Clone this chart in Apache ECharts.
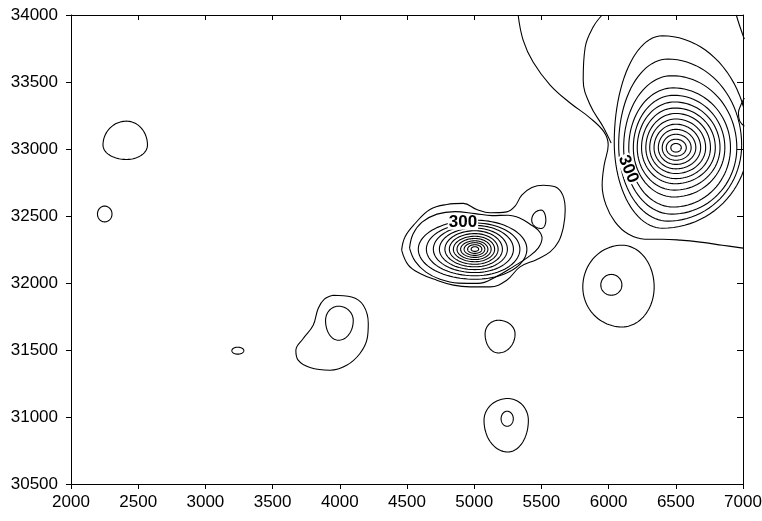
<!DOCTYPE html>
<html>
<head>
<meta charset="utf-8">
<script src="https://cdn.jsdelivr.net/npm/echarts@6/dist/echarts.min.js"></script>
<style>
  html, body { margin: 0; padding: 0; background: #fff; }
  #chart { width: 762px; height: 521px; }
</style>
</head>
<body>
<div id="chart"></div>
<script>
// axis ranges: [min, max, step]
const xRange = [2000, 7000, 500];
const yRange = [30500, 34000, 500];

// closed contour rings: [cx, cy, xLeft, xRight, yTop, yBottom]
const ringsCentral = [
  [5005, 32252, 4977, 5033, 32271, 32236],
  [5005, 32252, 4951, 5057, 32286, 32221],
  [5005, 32252, 4925, 5079, 32301, 32206],
  [5005, 32252, 4899, 5102, 32315, 32191],
  [5005, 32252, 4872, 5126, 32332, 32175],
  [5005, 32252, 4845, 5152, 32349, 32159],
  [5005, 32252, 4815, 5178, 32369, 32140],
  [5005, 32252, 4782, 5210, 32390, 32121],
  [5005, 32252, 4741, 5247, 32410, 32100],
  [5005, 32252, 4696, 5292, 32430, 32078],
  [5005, 32252, 4644, 5340, 32448, 32054],
  [5005, 32252, 4584, 5392, 32469, 32028]
];
const ringsNE = [
  [6500, 33010, 6463, 6541, 33041, 32977],
  [6500, 33010, 6429, 6578, 33073, 32947],
  [6500, 33010, 6399, 6614, 33110, 32916],
  [6500, 33010, 6370, 6649, 33147, 32885],
  [6500, 33010, 6338, 6685, 33185, 32852],
  [6500, 33010, 6306, 6722, 33224, 32817],
  [6500, 33010, 6277, 6758, 33265, 32779],
  [6495, 33010, 6245, 6794, 33306, 32741],
  [6490, 33010, 6213, 6829, 33351, 32693],
  [6485, 33010, 6184, 6865, 33401, 32642],
  [6480, 33010, 6150, 6907, 33456, 32567],
  [6470, 33010, 6112, 6954, 33547, 32514],
  [6440, 33030, 6075, 6990, 33671, 32462],
  [6400, 33050, 6042, 7040, 33845, 32409]
];
const ringsSmall = [
  [2413, 33029, 2238, 2569, 33208, 32922],
  [2250, 32515, 2197, 2305, 32574, 32456],
  [3240, 31495, 3197, 3286, 31521, 31469],
  [3990, 31720, 3894, 4100, 31827, 31573],
  [5180, 31620, 5081, 5304, 31722, 31478],
  [5250, 30975, 5073, 5403, 31138, 30739],
  [5245, 30987, 5200, 5291, 31043, 30931],
  [6100, 31970, 5808, 6339, 32282, 31672],
  [6020, 31985, 5942, 6099, 32064, 31909],
  [5498, 32469, 5428, 5533, 32544, 32407]
];

// irregular contours traced as [x, y] points
const blobWest = [
  [3951, 31909], [4088, 31896], [4175, 31834], [4212, 31698], [4204, 31586],
  [4150, 31474], [4051, 31386], [3927, 31349], [3778, 31369], [3690, 31424],
  [3673, 31498], [3728, 31586], [3802, 31685], [3839, 31810], [3885, 31880],
  [3951, 31909]
];
const centralOuter = [
  [4460, 32245], [4485, 32344], [4560, 32444], [4671, 32549], [4796, 32586],
  [4919, 32594], [5019, 32549], [5118, 32524], [5242, 32531], [5304, 32574],
  [5354, 32656], [5429, 32713], [5515, 32730], [5602, 32718], [5659, 32656],
  [5677, 32544], [5664, 32419], [5627, 32307], [5565, 32232], [5466, 32176],
  [5341, 32120], [5242, 32021], [5118, 31971], [4969, 31971], [4845, 31984],
  [4721, 32021], [4597, 32071], [4510, 32133], [4460, 32245]
];
const centralSecond = [
  [4519, 32260], [4545, 32365], [4612, 32454], [4723, 32514], [4857, 32533],
  [5006, 32518], [5133, 32503], [5252, 32506], [5341, 32484], [5416, 32439],
  [5476, 32394], [5505, 32335], [5476, 32260], [5401, 32193], [5297, 32126],
  [5170, 32051], [5029, 31997], [4880, 31999], [4746, 32028], [4641, 32081],
  [4560, 32163], [4519, 32260]
];
const neOuter = [
  [5327, 34000], [5364, 33813], [5438, 33649], [5565, 33477], [5714, 33343],
  [5863, 33231], [5967, 33126], [5997, 33029], [5967, 32880], [5952, 32730],
  [5981, 32581], [6049, 32454], [6146, 32365], [6271, 32327], [6399, 32327],
  [6533, 32320], [6682, 32305], [6846, 32282], [7000, 32260]
];
const neSecond = [
  [5952, 34000], [5885, 33910], [5826, 33761], [5811, 33515], [5863, 33328],
  [5960, 33164], [6019, 33044]
];
const eastSpur = [
  [7010, 33380], [6985, 33330], [6966, 33270], [6975, 33210], [7010, 33170]
];
const eastTop = [
  [6950, 34000], [6975, 33920], [7010, 33820]
];

// contour labels: [x, y, text, angle]
const contourLabels = [
  [4916, 32450, '300', 0],
  [6146, 32850, '300', -68]
];

const FONT = '"Liberation Sans", Arial, Helvetica, sans-serif';

function eggItem(params, api) {
  const c = api.coord([api.value(0), api.value(1)]);
  const l = api.coord([api.value(2), api.value(1)])[0];
  const r = api.coord([api.value(3), api.value(1)])[0];
  const t = api.coord([api.value(0), api.value(4)])[1];
  const b = api.coord([api.value(0), api.value(5)])[1];
  const pts = [];
  const n = 24;
  for (let q = 0; q < 4; q++) {
    for (let i = 0; i < n; i++) {
      const a = (q + i / n) * Math.PI / 2;
      const cs = Math.cos(a), sn = Math.sin(a);
      const rx = cs >= 0 ? r - c[0] : c[0] - l;
      const ry = sn >= 0 ? c[1] - t : b - c[1];
      pts.push([c[0] + rx * cs, c[1] - ry * sn]);
    }
  }
  return {
    type: 'polygon',
    shape: { points: pts },
    style: { fill: 'none', stroke: '#000', lineWidth: 1.1 }
  };
}

function ringSeries(data) {
  return {
    type: 'custom',
    renderItem: eggItem,
    data: data,
    clip: true,
    silent: true,
    encode: { x: [0, 2, 3], y: [1, 4, 5] }
  };
}

function lineSeries(data) {
  return {
    type: 'line',
    data: data,
    smooth: 0.4,
    showSymbol: false,
    symbol: 'none',
    clip: true,
    silent: true,
    lineStyle: { color: '#000', width: 1.1 }
  };
}

const tickLabelStyle = {
  color: '#000', fontSize: 17, fontFamily: FONT,
  formatter: v => String(v)
};
const axisLineStyle = { lineStyle: { color: '#000', width: 1 } };

const chart = echarts.init(document.getElementById('chart'), null, { renderer: 'canvas' });
chart.setOption({
  animation: false,
  backgroundColor: '#fff',
  grid: { left: 71, right: 19, top: 15, bottom: 37, containLabel: false, outerBoundsMode: 'none' },
  xAxis: [
    {
      type: 'value', position: 'bottom',
      min: xRange[0], max: xRange[1], interval: xRange[2],
      axisLine: axisLineStyle,
      axisTick: { show: true, inside: false, length: 5, lineStyle: { color: '#000' } },
      axisLabel: Object.assign({ margin: 10 }, tickLabelStyle),
      splitLine: { show: false }
    },
    {
      type: 'value', position: 'top',
      min: xRange[0], max: xRange[1], interval: xRange[2],
      axisLine: axisLineStyle,
      axisTick: { show: true, inside: true, length: 5, lineStyle: { color: '#000' } },
      axisLabel: { show: false },
      splitLine: { show: false }
    }
  ],
  yAxis: [
    {
      type: 'value', position: 'left',
      min: yRange[0], max: yRange[1], interval: yRange[2],
      axisLine: axisLineStyle,
      axisTick: { show: true, inside: false, length: 5, lineStyle: { color: '#000' } },
      axisLabel: Object.assign({ margin: 13 }, tickLabelStyle),
      splitLine: { show: false }
    },
    {
      type: 'value', position: 'right',
      min: yRange[0], max: yRange[1], interval: yRange[2],
      axisLine: axisLineStyle,
      axisTick: { show: true, inside: true, length: 6, lineStyle: { color: '#000' } },
      axisLabel: { show: false },
      splitLine: { show: false }
    }
  ],
  series: [
    ringSeries(ringsCentral),
    ringSeries(ringsNE),
    ringSeries(ringsSmall),
    lineSeries(blobWest),
    lineSeries(centralOuter),
    lineSeries(centralSecond),
    lineSeries(neOuter),
    lineSeries(neSecond),
    lineSeries(eastSpur),
    lineSeries(eastTop),
    {
      type: 'scatter',
      symbolSize: 0,
      silent: true,
      z: 10,
      itemStyle: { color: '#000', opacity: 1 },
      data: contourLabels.map(d => ({
        value: [d[0], d[1]],
        label: {
          show: true,
          position: 'inside',
          formatter: d[2],
          rotate: d[3],
          color: '#000',
          opacity: 1,
          textBorderWidth: 0,
          textShadowBlur: 0,
          fontSize: 17,
          fontWeight: 'bold',
          fontFamily: FONT,
          backgroundColor: '#fff',
          padding: [0, 1],
          lineHeight: 14
        }
      }))
    }
  ]
});
</script>
</body>
</html>
